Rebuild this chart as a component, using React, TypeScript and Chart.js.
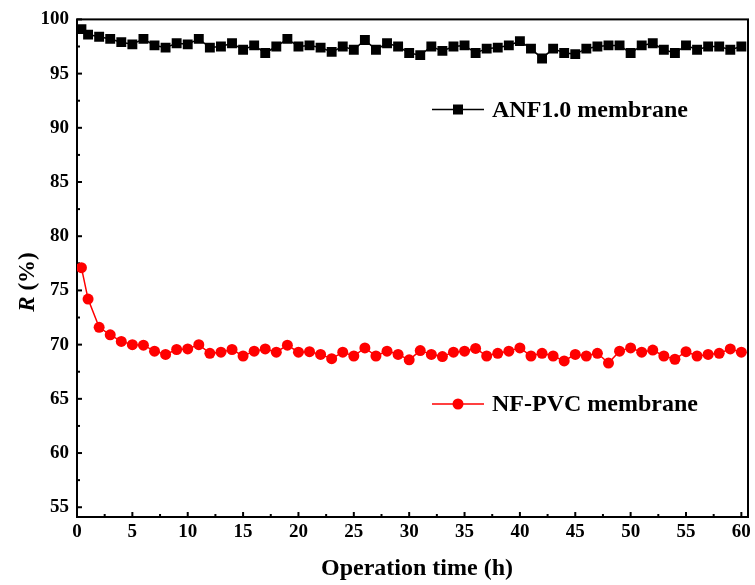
import React, { useEffect, useRef } from 'react';
import { Chart, registerables } from 'chart.js';

Chart.register(...registerables);

const TIME_H = [
  0.4, 1, 2, 3, 4, 5, 6, 7, 8, 9, 10, 11, 12, 13, 14, 15, 16, 17, 18, 19, 20,
  21, 22, 23, 24, 25, 26, 27, 28, 29, 30, 31, 32, 33, 34, 35, 36, 37, 38, 39, 40,
  41, 42, 43, 44, 45, 46, 47, 48, 49, 50, 51, 52, 53, 54, 55, 56, 57, 58, 59, 60,
];

const ANF_R = [
  99.1, 98.6, 98.4, 98.2, 97.9, 97.7, 98.2, 97.6, 97.4, 97.8, 97.7,
  98.2, 97.4, 97.5, 97.8, 97.2, 97.6, 96.9, 97.5, 98.2, 97.5,
  97.6, 97.4, 97.0, 97.5, 97.2, 98.1, 97.2, 97.8, 97.5, 96.9,
  96.7, 97.5, 97.1, 97.5, 97.6, 96.9, 97.3, 97.4, 97.6, 98.0,
  97.3, 96.4, 97.3, 96.9, 96.8, 97.3, 97.5, 97.6, 97.6, 96.9,
  97.6, 97.8, 97.2, 96.9, 97.6, 97.2, 97.5, 97.5, 97.2, 97.5,
];

const PVC_R = [
  77.1, 74.2, 71.6, 70.9, 70.3, 70.0, 69.95, 69.4, 69.1, 69.55, 69.6,
  70.0, 69.2, 69.3, 69.55, 68.95, 69.4, 69.6, 69.3, 69.95, 69.3,
  69.35, 69.1, 68.7, 69.3, 68.95, 69.7, 68.95, 69.4, 69.1, 68.6,
  69.45, 69.1, 68.9, 69.3, 69.4, 69.65, 68.95, 69.2, 69.4, 69.7,
  68.95, 69.2, 68.95, 68.5, 69.1, 68.95, 69.2, 68.3, 69.4, 69.7,
  69.3, 69.5, 68.95, 68.65, 69.35, 68.95, 69.1, 69.2, 69.6, 69.3,
];

const X_TICKS = [0, 5, 10, 15, 20, 25, 30, 35, 40, 45, 50, 55, 60];
const Y_TICKS = [55, 60, 65, 70, 75, 80, 85, 90, 95, 100];

const SERIES_NAMES = ['ANF1.0 membrane', 'NF-PVC membrane'];
const X_TITLE = 'Operation time (h)';

const FONT = '"Liberation Serif", "Times New Roman", Times, serif';

const midpoints = (arr: number[]) => arr.slice(1).map((v, i) => (v + arr[i]) / 2);

const decorPlugin = {
  id: 'decor',
  beforeDatasetsDraw(chart: any) {
    const { ctx, chartArea: a, scales } = chart;
    const xs = scales.x;
    const ys = scales.y;
    ctx.save();
    ctx.strokeStyle = '#000';
    ctx.lineWidth = 2;
    const xTick = (v: number, len: number) => {
      const px = xs.getPixelForValue(v);
      ctx.beginPath();
      ctx.moveTo(px, a.bottom);
      ctx.lineTo(px, a.bottom - len);
      ctx.stroke();
    };
    const yTick = (v: number, len: number) => {
      const py = ys.getPixelForValue(v);
      ctx.beginPath();
      ctx.moveTo(a.left, py);
      ctx.lineTo(a.left + len, py);
      ctx.stroke();
    };
    X_TICKS.forEach((v) => xTick(v, 5));
    midpoints(X_TICKS).forEach((v) => xTick(v, 3));
    Y_TICKS.forEach((v) => yTick(v, 5));
    midpoints(Y_TICKS).forEach((v) => yTick(v, 3));
    ctx.strokeRect(a.left, a.top, a.right - a.left, a.bottom - a.top);
    ctx.restore();
  },
  afterDraw(chart: any) {
    const { ctx } = chart;
    ctx.save();
    ctx.fillStyle = '#000';
    // x title
    ctx.font = `bold 24px ${FONT}`;
    ctx.textAlign = 'center';
    ctx.textBaseline = 'alphabetic';
    ctx.fillText(X_TITLE, 417, 575);

    // y title (rotated) "R (%)"
    ctx.save();
    ctx.translate(34, 282);
    ctx.rotate(-Math.PI / 2);
    ctx.textAlign = 'left';
    const italicFont = `italic bold 23px ${FONT}`;
    const boldFont = `bold 23px ${FONT}`;
    ctx.font = italicFont;
    const w1 = ctx.measureText('R').width;
    ctx.font = boldFont;
    const w2 = ctx.measureText(' (%)').width;
    const start = -(w1 + w2) / 2;
    ctx.font = italicFont;
    ctx.fillText('R', start, 0);
    ctx.font = boldFont;
    ctx.fillText(' (%)', start + w1, 0);
    ctx.restore();

    // legends
    const items = [
      { y: 109.5, color: '#000000', style: 'rect', text: SERIES_NAMES[0] },
      { y: 404, color: '#ff0000', style: 'circle', text: SERIES_NAMES[1] },
    ];
    items.forEach((it) => {
      ctx.strokeStyle = it.color;
      ctx.fillStyle = it.color;
      ctx.lineWidth = 1.5;
      ctx.beginPath();
      ctx.moveTo(432, it.y);
      ctx.lineTo(484, it.y);
      ctx.stroke();
      if (it.style === 'rect') {
        ctx.fillRect(458 - 5, it.y - 5, 10, 10);
      } else {
        ctx.beginPath();
        ctx.arc(458, it.y, 5.5, 0, Math.PI * 2);
        ctx.fill();
      }
      ctx.fillStyle = '#000';
      ctx.font = `bold 24px ${FONT}`;
      ctx.textAlign = 'left';
      ctx.textBaseline = 'middle';
      ctx.fillText(it.text, 492, it.y + 1);
    });
    ctx.restore();
  },
};

export default function App() {
  const canvasRef = useRef<HTMLCanvasElement | null>(null);

  useEffect(() => {
    const canvas = canvasRef.current;
    if (!canvas) return;
    const chart = new Chart(canvas, {
      type: 'line',
      data: {
        datasets: [
          {
            label: SERIES_NAMES[0],
            data: TIME_H.map((t, i) => ({ x: t, y: ANF_R[i] })),
            borderColor: '#000000',
            backgroundColor: '#000000',
            borderWidth: 1.5,
            pointStyle: 'rect',
            pointRadius: 7,
            pointBorderWidth: 0,
            tension: 0,
          },
          {
            label: SERIES_NAMES[1],
            data: TIME_H.map((t, i) => ({ x: t, y: PVC_R[i] })),
            borderColor: '#ff0000',
            backgroundColor: '#ff0000',
            borderWidth: 1.5,
            pointStyle: 'circle',
            pointRadius: 5.5,
            pointBorderWidth: 0,
            tension: 0,
          },
        ],
      },
      options: {
        responsive: false,
        animation: false,
        devicePixelRatio: 1,
        events: [],
        layout: { padding: { top: 13, right: 3, left: 0, bottom: 0 } },
        plugins: {
          legend: { display: false },
          tooltip: { enabled: false },
          title: { display: false },
        },
        scales: {
          x: {
            type: 'linear',
            min: 0,
            max: 60.6,
            grid: { display: false, drawTicks: false },
            border: { display: false },
            afterBuildTicks: (s: any) => {
              s.ticks = X_TICKS.map((v) => ({ value: v }));
            },
            afterFit: (s: any) => {
              s.height = 68;
            },
            ticks: {
              padding: 4,
              maxRotation: 0,
              autoSkip: false,
              color: '#000',
              font: { family: FONT, size: 19, weight: 'bold' },
            },
          },
          y: {
            type: 'linear',
            min: 54.1,
            max: 100,
            grid: { display: false, drawTicks: false },
            border: { display: false },
            afterBuildTicks: (s: any) => {
              s.ticks = Y_TICKS.map((v) => ({ value: v }));
            },
            afterFit: (s: any) => {
              s.width = 77;
            },
            ticks: {
              padding: 8,
              autoSkip: false,
              color: '#000',
              font: { family: FONT, size: 19, weight: 'bold' },
            },
          },
        },
      },
      plugins: [decorPlugin],
    } as any);
    return () => chart.destroy();
  }, []);

  return (
    <div style={{ position: 'absolute', left: 0, top: 0, width: 755, height: 585, background: '#fff' }}>
      <canvas ref={canvasRef} width={755} height={585} style={{ width: 755, height: 585, display: 'block' }} />
    </div>
  );
}
